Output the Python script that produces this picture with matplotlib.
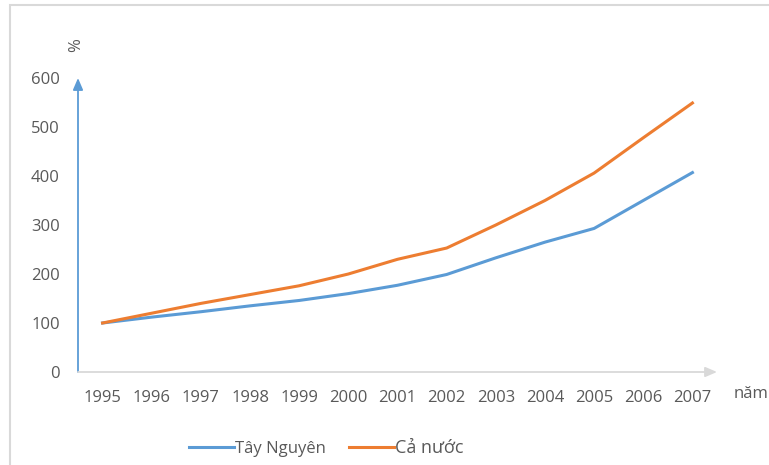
import numpy as np
import matplotlib
matplotlib.use("Agg")
import matplotlib.pyplot as plt
from matplotlib.patches import Rectangle

# dữ liệu (%)
years = ['1995', '1996', '1997', '1998', '1999', '2000', '2001',
         '2002', '2003', '2004', '2005', '2006', '2007']
tay_nguyen = [100, 112, 123, 135, 146, 160, 177, 199, 233, 265, 293, 350, 407]
ca_nuoc = [100, 120, 140, 158, 176, 200, 230, 253, 300, 350, 406, 478, 549]

blue = '#5B9BD5'
orange = '#ED7D31'
gray = '#595959'

plt.rcParams['font.family'] = ['Open Sans', 'DejaVu Sans']

fig = plt.figure(figsize=(7.69, 4.65), dpi=100)
# khung viền nhạt
fig.patches.append(Rectangle((10 / 769, -0.1), 1.1, 1.1 - 5 / 465,
                             transform=fig.transFigure, fill=False,
                             edgecolor='#D9D9D9', linewidth=1.5))

ax = fig.add_axes([78 / 769, 93 / 465, 639 / 769, 294 / 465])
x = np.arange(len(years))
ax.plot(x, tay_nguyen, color=blue, lw=2.2, label='Tây Nguyên')
ax.plot(x, ca_nuoc, color=orange, lw=2.2, label='Cả nước')

ax.set_xlim(-0.5, len(years) - 0.5)
ax.set_ylim(0, 600)
ax.set_yticks(range(0, 601, 100))
ax.set_xticks(x)
ax.set_xticklabels(years)
for s in ax.spines.values():
    s.set_visible(False)
ax.tick_params(length=0, colors=gray, labelsize=12)
ax.tick_params(axis='y', pad=13)
ax.tick_params(axis='x', pad=13)

# trục có mũi tên
ax.annotate('', xy=(0, 1), xytext=(0, 0), xycoords='axes fraction',
            arrowprops=dict(arrowstyle='-|>,head_length=0.7,head_width=0.3',
                            color=blue, lw=1.3, shrinkA=0, shrinkB=0))
ax.annotate('', xy=(1, 0), xytext=(0, 0), xycoords='axes fraction',
            arrowprops=dict(arrowstyle='-|>,head_length=0.7,head_width=0.3',
                            color='#D9D9D9', lw=1.3, shrinkA=0, shrinkB=0))

fig.text(76 / 769, 1 - 45 / 465, '%', rotation=90, color=gray, fontsize=12,
         ha='center', va='center')
fig.text(734 / 769, 1 - 394 / 465, 'năm', color=gray, fontsize=12,
         ha='left', va='center')

leg = fig.legend(loc='center', bbox_to_anchor=(326 / 769, 1 - 448 / 465),
                 ncol=2, frameon=False, fontsize=12, labelcolor=gray,
                 handlelength=2.7, columnspacing=1.4, handletextpad=0.05)
leg.get_texts()[1].set_fontsize(13)

fig.savefig('out.png', dpi=100)
